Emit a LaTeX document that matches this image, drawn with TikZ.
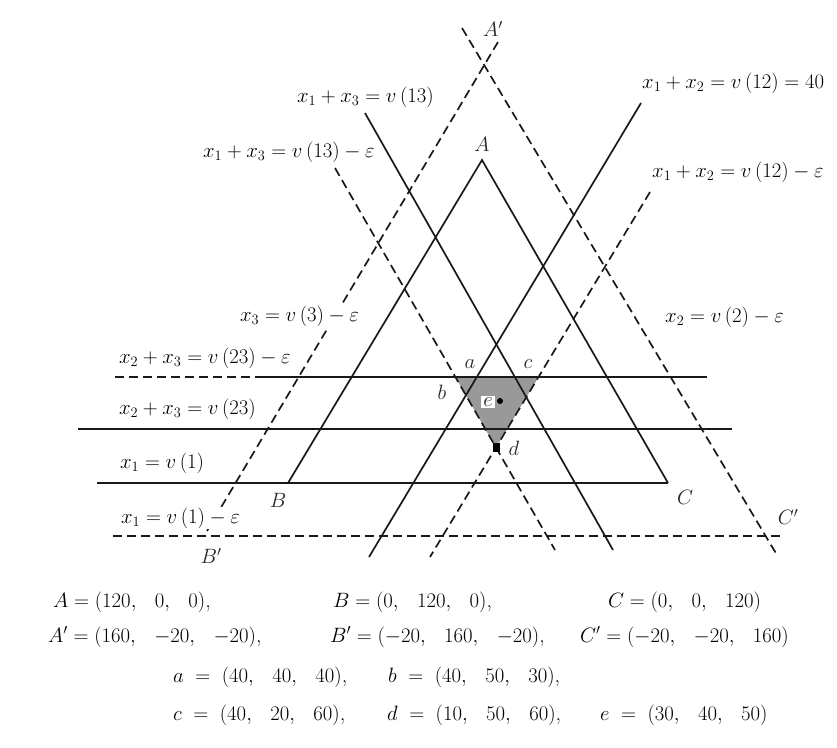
\documentclass[tikz,border=0pt]{standalone}
\usepackage{amsmath}
\usetikzlibrary{calc}
\newcommand{\gp}{,\;\;\,}
\begin{document}
\begin{tikzpicture}[x=1pt,y=-1pt,
  ln/.style={line width=1.7pt, draw=black!90},
  dl/.style={ln, dash pattern=on 9pt off 5pt},
  lab/.style={anchor=west, inner sep=0pt, text=black,
    font={\fontsize{20}{22}\selectfont}},
  plab/.style={inner sep=0pt, text=black!85, font=\fontsize{21}{23}\selectfont},
  rowtxt/.style={anchor=west, inner sep=0pt, text=black,
    font={\fontsize{22}{26}\selectfont}}]
\useasboundingbox (0,0) rectangle (837,747);
\fill[white] (0,0) rectangle (837,747);

% main points
\coordinate (A) at (482,160);
\coordinate (B) at (288,483);
\coordinate (C) at (668,483);
\coordinate (Ap) at (484,65);
\coordinate (Bp) at (204,536);
\coordinate (Cp) at (765,536);
% line ends
\coordinate (h0l) at (97,483);
\coordinate (hm20l) at (113,536);
\coordinate (hm20r) at (782,536);
\coordinate (h20l) at (78,429);
\coordinate (h20r) at (732,429);
\coordinate (h40l) at (115,377);
\coordinate (h40m) at (255,377);
\coordinate (h40r) at (707,377);
\coordinate (sm20t) at (498,42);
\coordinate (s40t) at (641,103);
\coordinate (s40b) at (369,557);
\coordinate (s60t) at (650,192);
\coordinate (s60b) at (430,557);
\coordinate (bm20t) at (462,28);
\coordinate (bm20b) at (777,555);
\coordinate (b30t) at (365,113);
\coordinate (b30b) at (613,550);
\coordinate (b50t) at (335,168);
\coordinate (b50b) at (555,550);

% corners of the shaded region
\coordinate (pb) at (intersection of h40l--h40r and b50t--b50b);
\coordinate (pc) at (intersection of h40l--h40r and s60t--s60b);
\coordinate (pd) at (intersection of b50t--b50b and s60t--s60b);
\fill[black!40] (pb) -- (pc) -- (pd) -- cycle;

% horizontal lines
\draw[ln] (h0l) -- (C);
\draw[dl] (hm20l) -- (hm20r);
\draw[ln] (h20l) -- (h20r);
\draw[dl] (h40l) -- (h40m);
\draw[ln] (h40m) -- (h40r);
% triangle ABC
\draw[ln] (B) -- (A) -- (C);
% slanted lines
\draw[dl] (sm20t) -- (Bp);
\draw[dl] (bm20t) -- (bm20b);
\draw[ln] (s40t) -- (s40b);
\draw[dl] (s60t) -- (s60b);
\draw[ln] (b30t) -- (b30b);
\draw[dl] (b50t) -- (b50b);

% points e and d
\node[fill=white, inner sep=2pt, text=black!85, font=\fontsize{21}{23}\selectfont] (le) at (488,402) {$e$};
\fill[black] (500,401) circle (3);
\fill[black] ($(pd)+(-3.5,-4.5)$) rectangle ($(pd)+(3.5,4.5)$);

% line labels
\node[lab] (t1) at (297,97) {$x_1+x_3=v\,(13)$};
\node[lab] (t2) at (203,152) {$x_1+x_3=v\,(13)-\varepsilon$};
\node[lab] (t3) at (642,83) {$x_1+x_2=v\,(12)=40$};
\node[lab] (t4) at (652,172) {$x_1+x_2=v\,(12)-\varepsilon$};
\node[lab] (t5) at (665,317) {$x_2=v\,(2)-\varepsilon$};
\node[lab, fill=white, inner sep=1pt] (t6) at (239,316) {$x_3=v\,(3)-\varepsilon$};
\node[lab] (t7) at (119,358) {$x_2+x_3=v\,(23)-\varepsilon$};
\node[lab] (t8) at (119,409) {$x_2+x_3=v\,(23)$};
\node[lab] (t9) at (120,463) {$x_1=v\,(1)$};
\node[lab, fill=white, inner sep=1pt] (t10) at (120,518) {$x_1=v\,(1)-\varepsilon$};

% point labels
\node[plab] (lAp) at (493,29) {$A'$};
\node[plab] (lA) at (482,144) {$A$};
\node[plab] (lB) at (278,500) {$B$};
\node[plab] (lBp) at (211,556) {$B'$};
\node[plab] (lC) at (685,497) {$C$};
\node[plab] (lCp) at (788,517) {$C'$};
\node[plab] (la) at (470,364) {$a$};
\node[plab] (lb) at (442,392) {$b$};
\node[plab] (lc) at (528,364) {$c$};
\node[plab] (ld) at (514,448) {$d$};

% coordinate list
\node[rowtxt] (r1a) at (53,602) {$A=(120\gp 0\gp 0)$,};
\node[rowtxt] (r1b) at (333,602) {$B=(0\gp 120\gp 0)$,};
\node[rowtxt] (r1c) at (608,602) {$C=(0\gp 0\gp 120)$};
\node[rowtxt] (r2a) at (48,637) {$A'=(160\gp -20\gp -20)$,};
\node[rowtxt] (r2b) at (330,637) {$B'=(-20\gp 160\gp -20)$,};
\node[rowtxt] (r2c) at (580,637) {$C'=(-20\gp -20\gp 160)$};
\node[rowtxt] (r3a) at (173,677) {$a\;=\;(40\gp 40\gp 40)$,};
\node[rowtxt] (r3b) at (388,677) {$b\;=\;(40\gp 50\gp 30)$,};
\node[rowtxt] (r4a) at (173,715) {$c\;=\;(40\gp 20\gp 60)$,};
\node[rowtxt] (r4b) at (387,715) {$d\;=\;(10\gp 50\gp 60)$,};
\node[rowtxt] (r4c) at (600,715) {$e\;=\;(30\gp 40\gp 50)$};
\end{tikzpicture}
\end{document}
